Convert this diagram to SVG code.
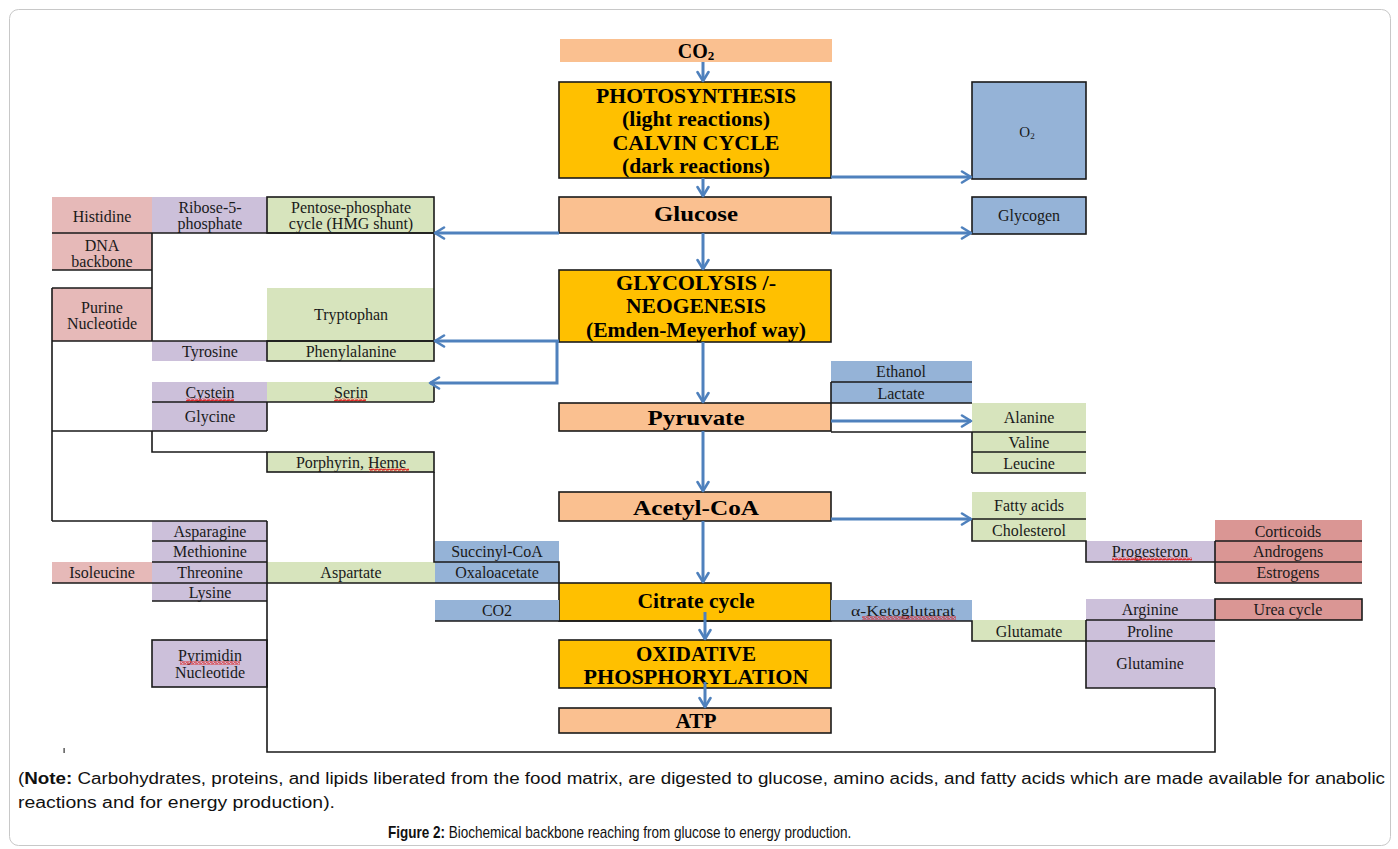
<svg xmlns="http://www.w3.org/2000/svg" width="1398" height="849" viewBox="0 0 1398 849">
<defs>
<marker id="ah" markerUnits="userSpaceOnUse" markerWidth="14" markerHeight="14" viewBox="0 0 14 14" refX="12" refY="7" orient="auto">
<path d="M3,1.5 L12,7 L3,12.5" fill="none" stroke="#4F81BD" stroke-width="2.6" stroke-linecap="round" stroke-linejoin="round"/>
</marker>
<pattern id="wavy" width="4" height="3" patternUnits="userSpaceOnUse">
<path d="M0,2.4 L1,0.6 L3,2.4 L4,0.6" fill="none" stroke="#E02020" stroke-width="1.1"/>
</pattern>
</defs>
<style>
.t{font-family:"Liberation Serif","Times New Roman",serif;font-size:16px;fill:#1a1a1a;text-anchor:middle}
.b{font-weight:bold;fill:#000}
.k{stroke:#1a1a1a;stroke-width:1.6}
.ln{stroke:#1a1a1a;stroke-width:1.6;fill:none}
.ar{stroke:#4F81BD;stroke-width:3;fill:none;marker-end:url(#ah)}
.or{fill:#FAC090}.gd{fill:#FFC000}.bl{fill:#95B3D7}.gr{fill:#D7E4BD}.pu{fill:#CCC0DA}.pk{fill:#E6B9B8}.pd{fill:#DA9694}
.w{fill:url(#wavy)}
.note{font-family:"Liberation Sans",Arial,sans-serif;font-size:16px;fill:#111}
</style>
<rect x="0" y="0" width="1398" height="849" fill="#fff"/>
<rect x="9.5" y="9.5" width="1381" height="836" rx="9" fill="none" stroke="#c8c8c8" stroke-width="1"/>

<!-- center column -->
<g id="co2-top"><rect class="or" x="560" y="39" width="272" height="23"/><text class="t b" x="696" y="58" style="font-size:20px">CO<tspan style="font-size:13px" dy="2">2</tspan></text></g>
<g id="photosynthesis"><rect class="gd k" x="559" y="82" width="272" height="96"/>
<text class="t b" x="696" y="103" style="font-size:20px" textLength="200" lengthAdjust="spacingAndGlyphs">PHOTOSYNTHESIS</text>
<text class="t b" x="696" y="126" style="font-size:20px" textLength="148" lengthAdjust="spacingAndGlyphs">(light reactions)</text>
<text class="t b" x="696" y="150" style="font-size:20px" textLength="167" lengthAdjust="spacingAndGlyphs">CALVIN CYCLE</text>
<text class="t b" x="696" y="173" style="font-size:20px" textLength="148" lengthAdjust="spacingAndGlyphs">(dark reactions)</text></g>
<g id="glucose"><rect class="or k" x="559" y="197" width="272" height="36"/><text class="t b" x="696" y="221" style="font-size:22px" textLength="84" lengthAdjust="spacingAndGlyphs">Glucose</text></g>
<g id="glycolysis"><rect class="gd k" x="559" y="270" width="272" height="72"/>
<text class="t b" x="696" y="290" style="font-size:20px" textLength="160" lengthAdjust="spacingAndGlyphs">GLYCOLYSIS /-</text>
<text class="t b" x="696" y="313" style="font-size:20px" textLength="140" lengthAdjust="spacingAndGlyphs">NEOGENESIS</text>
<text class="t b" x="696" y="337" style="font-size:20px" textLength="220" lengthAdjust="spacingAndGlyphs">(Emden-Meyerhof way)</text></g>
<g id="pyruvate"><rect class="or k" x="559" y="403" width="272" height="28"/><text class="t b" x="696" y="425" style="font-size:22px" textLength="97" lengthAdjust="spacingAndGlyphs">Pyruvate</text></g>
<g id="acetyl-coa"><rect class="or k" x="559" y="492" width="272" height="29"/><text class="t b" x="696" y="515" style="font-size:22px" textLength="126" lengthAdjust="spacingAndGlyphs">Acetyl-CoA</text></g>
<g id="citrate-cycle"><rect class="gd k" x="559" y="583" width="272" height="38"/><text class="t b" x="696" y="608" style="font-size:21px" textLength="117" lengthAdjust="spacingAndGlyphs">Citrate cycle</text></g>
<g id="oxidative-phosphorylation"><rect class="gd k" x="559" y="640" width="272" height="48"/>
<text class="t b" x="696" y="661" style="font-size:20px" textLength="120" lengthAdjust="spacingAndGlyphs">OXIDATIVE</text>
<text class="t b" x="696" y="684" style="font-size:20px" textLength="225" lengthAdjust="spacingAndGlyphs">PHOSPHORYLATION</text></g>
<g id="atp"><rect class="or k" x="559" y="708" width="272" height="25"/><text class="t b" x="696" y="728" style="font-size:21px" textLength="41" lengthAdjust="spacingAndGlyphs">ATP</text></g>

<!-- left side -->
<g id="histidine"><rect class="pk" x="52" y="197" width="100" height="36"/><text class="t" x="102" y="222">Histidine</text></g>
<g id="ribose-5-phosphate"><rect class="pu" x="152" y="197" width="115" height="36"/><text class="t" x="210" y="213">Ribose-5-</text><text class="t" x="210" y="229">phosphate</text></g>
<g id="pentose-phosphate"><rect class="gr k" x="267" y="197" width="167" height="36"/><text class="t" x="351" y="213">Pentose-phosphate</text><text class="t" x="351" y="229">cycle (HMG shunt)</text></g>
<g id="dna-backbone"><rect class="pk" x="52" y="233" width="100" height="37"/><text class="t" x="102" y="251">DNA</text><text class="t" x="102" y="267">backbone</text></g>
<g id="purine-nucleotide"><rect class="pk" x="52" y="288" width="100" height="53"/><text class="t" x="102" y="313">Purine</text><text class="t" x="102" y="329">Nucleotide</text></g>
<g id="tryptophan"><rect class="gr" x="267" y="288" width="167" height="53"/><text class="t" x="351" y="320">Tryptophan</text></g>
<g id="tyrosine"><rect class="pu" x="152" y="341" width="115" height="20"/><text class="t" x="210" y="357">Tyrosine</text></g>
<g id="phenylalanine"><rect class="gr k" x="267" y="341" width="167" height="20"/><text class="t" x="351" y="357">Phenylalanine</text></g>
<g id="cystein"><rect class="pu" x="152" y="382" width="115" height="20"/><text class="t" x="210" y="398">Cystein</text><rect class="w" x="186" y="398.5" width="48" height="3"/></g>
<g id="serin"><rect class="gr" x="267" y="382" width="167" height="20"/><text class="t" x="351" y="398">Serin</text><rect class="w" x="334" y="398.5" width="32" height="3"/></g>
<g id="glycine"><rect class="pu" x="152" y="402" width="115" height="29"/><text class="t" x="210" y="422">Glycine</text></g>
<g id="porphyrin-heme"><rect class="gr k" x="267" y="452" width="167" height="20"/><text class="t" x="351" y="468">Porphyrin, Heme</text><rect class="w" x="369" y="468.5" width="40" height="3"/></g>
<g id="asparagine"><rect class="pu" x="152" y="521" width="115" height="20"/><text class="t" x="210" y="537">Asparagine</text></g>
<g id="methionine"><rect class="pu" x="152" y="541" width="115" height="21"/><text class="t" x="210" y="557">Methionine</text></g>
<g id="threonine"><rect class="pu" x="152" y="562" width="115" height="21"/><text class="t" x="210" y="578">Threonine</text></g>
<g id="lysine"><rect class="pu" x="152" y="583" width="115" height="18"/><text class="t" x="210" y="598">Lysine</text></g>
<g id="isoleucine"><rect class="pk" x="52" y="562" width="100" height="21"/><text class="t" x="102" y="578">Isoleucine</text></g>
<g id="aspartate"><rect class="gr" x="267" y="562" width="168" height="21"/><text class="t" x="351" y="578">Aspartate</text></g>
<g id="succinyl-coa"><rect class="bl" x="435" y="541" width="124" height="21"/><text class="t" x="497" y="557">Succinyl-CoA</text></g>
<g id="oxaloacetate"><rect class="bl" x="435" y="562" width="124" height="21"/><text class="t" x="497" y="578">Oxaloacetate</text></g>
<g id="co2-left"><rect class="bl" x="435" y="600" width="124" height="21"/><text class="t" x="497" y="616">CO2</text></g>
<g id="pyrimidin-nucleotide"><rect class="pu k" x="152" y="640" width="115" height="47"/><text class="t" x="210" y="661">Pyrimidin</text><rect class="w" x="180" y="661.5" width="60" height="3"/><text class="t" x="210" y="678">Nucleotide</text></g>

<!-- right side -->
<g id="o2"><rect class="bl k" x="972" y="82" width="114" height="97"/><text class="t" x="1027" y="137" style="font-size:15px">O<tspan style="font-size:9px" dy="2">2</tspan></text></g>
<g id="glycogen"><rect class="bl k" x="972" y="197" width="114" height="37"/><text class="t" x="1029" y="221">Glycogen</text></g>
<g id="ethanol"><rect class="bl" x="831" y="361" width="141" height="21"/><text class="t" x="901" y="377">Ethanol</text></g>
<g id="lactate"><rect class="bl" x="831" y="382" width="141" height="21"/><text class="t" x="901" y="399">Lactate</text></g>
<g id="alanine"><rect class="gr" x="972" y="403" width="114" height="29"/><text class="t" x="1029" y="423">Alanine</text></g>
<g id="valine"><rect class="gr" x="972" y="432" width="114" height="20"/><text class="t" x="1029" y="448">Valine</text></g>
<g id="leucine"><rect class="gr" x="972" y="452" width="114" height="21"/><text class="t" x="1029" y="469">Leucine</text></g>
<g id="fatty-acids"><rect class="gr" x="972" y="492" width="114" height="27"/><text class="t" x="1029" y="511">Fatty acids</text></g>
<g id="cholesterol"><rect class="gr" x="972" y="519" width="114" height="22"/><text class="t" x="1029" y="536">Cholesterol</text></g>
<g id="progesteron"><rect class="pu" x="1086" y="541" width="129" height="21"/><text class="t" x="1150" y="557">Progesteron</text><rect class="w" x="1112" y="557.5" width="80" height="3"/></g>
<g id="corticoids"><rect class="pd" x="1215" y="520" width="147" height="21"/><text class="t" x="1288" y="537">Corticoids</text></g>
<g id="androgens"><rect class="pd" x="1215" y="541" width="147" height="21"/><text class="t" x="1288" y="557">Androgens</text></g>
<g id="estrogens"><rect class="pd" x="1215" y="562" width="147" height="21"/><text class="t" x="1288" y="578">Estrogens</text></g>
<g id="alpha-ketoglutarat"><rect class="bl" x="831" y="600" width="141" height="21"/><text class="t" x="903" y="616" style="font-size:14px" textLength="104" lengthAdjust="spacingAndGlyphs">α-Ketoglutarat</text><rect class="w" x="862" y="616.5" width="94" height="3"/></g>
<g id="glutamate"><rect class="gr" x="972" y="620" width="114" height="21"/><text class="t" x="1029" y="637">Glutamate</text></g>
<g id="arginine"><rect class="pu" x="1086" y="599" width="129" height="21"/><text class="t" x="1150" y="615">Arginine</text></g>
<g id="urea-cycle"><rect class="pd k" x="1215" y="599" width="147" height="21"/><text class="t" x="1288" y="615">Urea cycle</text></g>
<g id="proline"><rect class="pu" x="1086" y="620" width="129" height="21"/><text class="t" x="1150" y="637">Proline</text></g>
<g id="glutamine"><rect class="pu" x="1086" y="641" width="129" height="47"/><text class="t" x="1150" y="669">Glutamine</text></g>

<!-- connectors -->
<g id="connectors">
<path class="ln" d="M52,233 H434 M52,270 H152 M152,233 V341 M52,288 H152 M52,288 V521 M52,341 H434 M434,233 V341
M434,382 V402 M152,402 H434 M267,402 V431 M52,431 H267 M152,431 V452 H267
M434,472 V562 H559 V583 M52,521 H267 M267,521 V752 H1215 V688 M152,541 H267 M152,562 H267 M52,583 H559 M152,601 H267
M435,621 H972 V641 H1215 M1086,620 H1215 M1086,620 V688 H1215
M831,382 H972 M831,403 H972 M831,382 V403
M831,432 H1086 M972,432 V473 M972,452 H1086 M972,473 H1086
M972,519 H1086 M972,519 V541 H1086 V562 H1215 M1215,541 H1362 M1215,562 H1362 M1215,583 H1362 M1215,541 V583"/>
<path class="ar" d="M703,62 V81"/>
<path class="ar" d="M703,178 V196"/>
<path class="ar" d="M703,233 V269"/>
<path class="ar" d="M703,342 V402"/>
<path class="ar" d="M703,431 V491"/>
<path class="ar" d="M703,521 V582"/>
<path class="ar" d="M705,612 V639"/>
<path class="ar" d="M705,682 V707"/>
<path class="ar" d="M831,177 H971"/>
<path class="ar" d="M831,233 H971"/>
<path class="ar" d="M559,233 H435"/>
<path class="ar" d="M559,341 H435"/>
<path class="ar" d="M557,341 V383 H430"/>
<path class="ar" d="M831,421 H971"/>
<path class="ar" d="M831,519 H971"/>
</g>

<rect x="63.5" y="748" width="1.2" height="5" fill="#333"/>
<text class="note" x="18" y="784" textLength="1367" lengthAdjust="spacingAndGlyphs">(<tspan font-weight="bold">Note:</tspan> Carbohydrates, proteins, and lipids liberated from the food matrix, are digested to glucose, amino acids, and fatty acids which are made available for anabolic</text>
<text class="note" x="18" y="808" textLength="317" lengthAdjust="spacingAndGlyphs">reactions and for energy production).</text>
<text class="note" transform="translate(388,838) scale(0.845,1)" x="0" y="0"><tspan font-weight="bold">Figure 2:</tspan> Biochemical backbone reaching from glucose to energy production.</text>
</svg>
